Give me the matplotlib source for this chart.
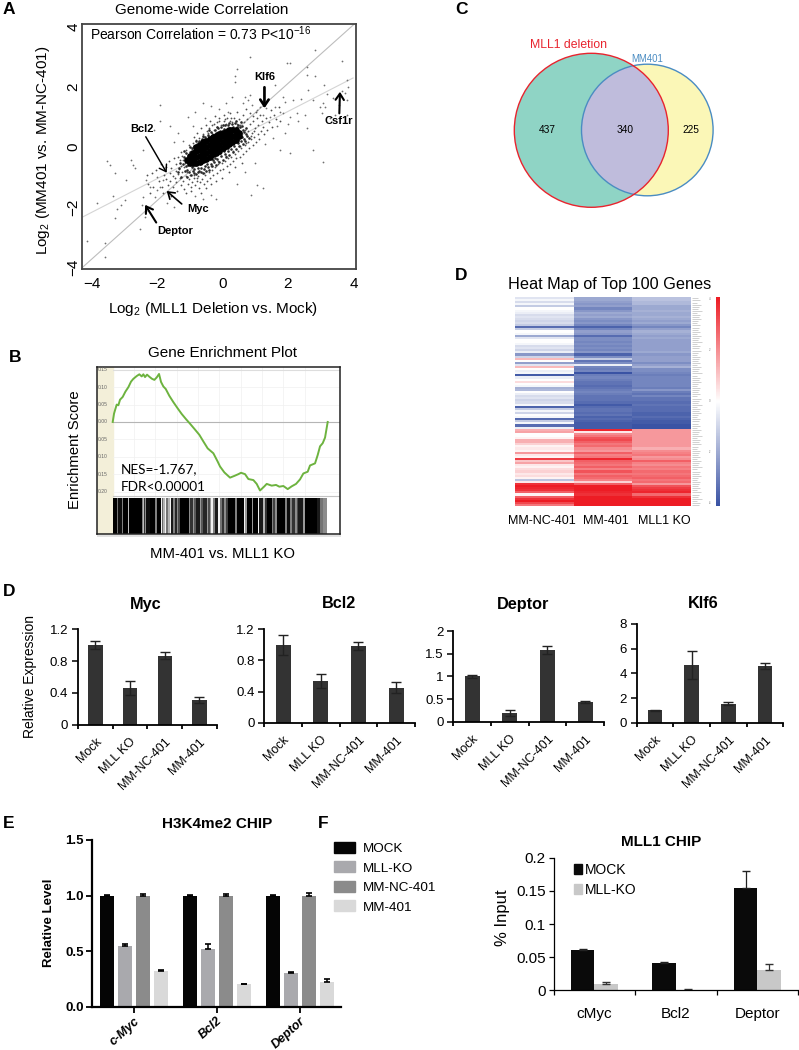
#!/usr/bin/env python3
"""Multi-panel figure: correlation scatter, enrichment plot, Venn, heat map and qPCR / ChIP bars."""

import numpy as np
import matplotlib
matplotlib.use("Agg")
import matplotlib.pyplot as plt
from matplotlib.colors import LinearSegmentedColormap
from matplotlib.patches import Circle, Patch

W, H = 799, 1050
plt.rcParams['font.family'] = ['Liberation Sans', 'DejaVu Sans']
plt.rcParams['mathtext.fontset'] = 'custom'
plt.rcParams['mathtext.rm'] = 'Liberation Sans'
plt.rcParams['mathtext.default'] = 'regular'

# --- panel A: values
sparse_pts = [
    (2.83,3.23),(.84,3.01),(1.96,2.81),(2.06,2.79),(3.64,2.87),(2.57,2.66),(.38,2.37),(.38,2.18),(2.57,2.4),(2.83,2.37),
    (3.8,2.23),(3.64,1.88),(3.85,1.99),(3.74,1.79),(3.8,1.57),(3.39,1.62),(3.08,1.46),(2.98,1.34),(3.13,1.34),(3.03,1.12),
    (3.44,1.07),(2.57,.62),(3.8,1.07),(1.86,1.68),(2.16,1.57),(1.91,1.51),(2.27,1.12),(2.52,1.07),(1.86,1.12),(2.06,1.01),
    (1.61,1.34),(1.76,1.17),(.68,1.68),(.84,1.73),(.79,1.57),(.63,1.46),(.89,1.4),(1.04,1.23),(1.24,1.07),(1.45,1.01),
    (1.14,1.34),(1.34,1.29),(3.07,-.49),(2.78,-.1),(2.06,-.19),(1.24,-1.38),(1.06,-1.27),(.87,-1.6),(-1.92,1.4),(-2.43,-.1),
    (-2.79,-.43),(-2.69,-.71),(-3.55,-.47),(-3.44,-.6),(-3.29,-.88),(-2.74,-.6),(-2.94,-1.1),(-3.84,-1.88),(-3.35,-1.62),(-3.22,-2.08),
    (-3.28,-2.38),(-2.53,-2.74),(-4.16,-3.13),(-3.6,-3.21),(-3.6,-3.66),(-2.43,-1.66),(-2.48,-1.93),(-2.38,-2.32),(-2.33,-2.15),(-2.07,-1.66),
    (-2.02,-1.43),(-2.22,-1.32),(-1.92,-1.32),(-1.71,-1.88),(-1.5,-1.99),(-2.33,-1.1),(-2.02,-.99),(-1.82,-1.1),(-3.0,-1.78),(-3.1,-1.95),
    (1.6,2.05),(1.35,2.4),(.45,2.6),(1.9,.45),(1.55,.3),(1.3,.1),(1.75,-.1),(1.0,-.55),(.7,-.85),(.45,-1.25),
    (-.35,-1.6),(-.2,-1.75),(-.85,-1.65),(-.6,-1.75),(-1.9,.85),(-2.1,.55),(-1.6,.7),(-1.35,.45),(-1.05,1.0),(-.6,1.45),
    (-.85,1.15),(-.35,1.35),(-.1,1.25),(.1,1.45),(.3,1.65),(.15,1.15),(-.55,.95),(-.9,.7),(-1.2,.2),(-1.5,.15),
    (3.3,.95),(3.55,1.4),(3.2,1.75),(2.4,1.6),(2.75,1.55),(2.3,.85),(2.0,.75),(1.65,.7),(2.6,1.9),(3.1,2.05),
]
mid_pts = [
    (-2.03,-.77),(-1.94,-1.12),(-1.88,-.58),(-1.86,-1.33),(-1.79,-.93),(-1.83,-1.52),(-1.73,-.68),(-1.72,-1.07),(-1.67,-1.27),(-1.64,-.47),
    (-1.62,-.88),(-1.58,-1.63),(-1.61,-1.14),(-1.53,-.96),(-1.57,-.71),(-1.49,-.38),(-1.52,-1.34),(-1.46,-1.03),(-1.44,-.79),(-1.41,-.57),
    (-1.39,-1.47),(-1.42,-1.16),(-1.36,-.91),(-1.33,-.73),(-1.37,-.33),(-1.28,-1.26),(-1.31,-1.02),(-1.26,-.62),(-1.23,-.83),(-1.27,-.18),
    (-1.18,-1.41),(-1.22,-1.13),(-1.17,-.68),(-1.21,-.42),(-1.13,-.97),(-1.16,-.53),(-1.11,-.09),(-1.07,-1.24),(-1.12,-1.53),(-1.08,-.82),
    (-1.03,-1.06),(-1.06,-.27),(-1.02,.07),(-.98,-1.32),(-1.01,-.93),(-.97,-.12),(-.93,-1.17),(-.96,-1.46),(-.92,.13),(-.88,-1.03),
    (-.91,-.21),(-.87,.33),(-.83,-1.27),(-.86,-.94),(-.82,-.03),(-.78,-1.12),(-.81,.22),(-.77,.47),(-.73,-1.37),(-.76,-.97),
    (-.72,.04),(-.68,-1.16),(-.71,.31),(-.67,.62),(-.63,-1.06),(-.66,-1.52),(-.62,.17),(-.58,-1.22),(-.61,.42),(-.53,-.93),
    (-.56,.26),(-.52,.73),(-.48,-1.12),(-.51,-1.37),(-.47,.52),(-.43,-.83),(-.46,.36),(-.38,-1.03),(-.41,.63),(-.37,.87),
    (-.33,-.77),(-.36,-1.22),(-.32,.46),(-.28,-.92),(-.31,.72),(-.23,-.68),(-.26,.57),(-.22,1.02),(-.18,-.87),(-.21,-1.12),
    (-.17,.67),(-.13,-.58),(-.16,.82),(-.08,-.77),(-.11,.97),(-.03,-.53),(-.06,.72),(.02,-.72),(-.01,-1.02),(.03,.87),
    (.07,-.48),(.04,1.07),(.12,-.62),(.09,.77),(.17,-.38),(.14,.97),(.22,-.57),(.19,-.82),(.23,.87),(.27,-.33),
    (.24,1.12),(.32,-.47),(.29,.82),(.37,-.23),(.34,.97),(.42,-.37),(.39,-.67),(.43,.77),(.47,-.13),(.44,1.17),
    (.52,-.32),(.49,.92),(.57,-.03),(.54,.72),(.62,-.22),(.59,-.52),(.63,1.07),(.67,.07),(.64,.82),(.72,-.12),
    (.69,.57),(.73,1.27),(.77,.17),(.74,.92),(.82,-.03),(.79,.52),(.83,1.12),(.87,.27),(.84,.77),(.92,.07),
    (.89,.47),(.93,1.02),(.97,.32),(.94,.87),(1.02,.17),(.99,.62),(1.03,1.17),(1.07,.42),(1.04,.97),(1.12,.27),
    (1.09,.72),(1.17,.52),(1.14,1.07),(1.22,.87),(1.27,.42),(1.24,.67),(1.32,.97),(1.37,.57),(1.42,.82),(1.47,1.22),
    (1.52,.67),(1.57,1.07),(1.62,.92),(1.72,1.32),(1.77,.87),(-2.17,-.87),(-2.27,-1.22),(-2.12,-1.32),(-2.32,-.92),(-2.22,-1.52),
    (-1.31,-.44),(-1.24,-.31),(-.94,-.06),(-.74,.16),(-.59,.33),(-.44,.48),(-.27,.76),(-.12,.86),(.06,.92),(.26,.98),
    (-.79,-1.02),(-.56,-.86),(-.34,-.64),(-.14,-.47),(.11,-.29),(.33,-.13),(.53,.04),(.71,.13),(.86,.36),(.96,.53),
]
dense_pts = [
    (-1.37,-.83),(-1.32,-.71),(-1.26,-1.01),(-1.21,-.58),(-1.16,-.79),(-1.12,-.63),(-1.09,-.99),(-1.06,-.48),(-1.03,-.84),(-1.01,-.16),
    (-.98,-.32),(-.96,-.94),(-.93,-.05),(-.91,-.81),(-.88,.03),(-.86,-.88),(-.84,-.16),(-.81,-.91),(-.79,.11),(-.76,-.84),
    (-.73,.19),(-.71,-.79),(-.69,.06),(-.66,-.83),(-.64,.26),(-.61,-.88),(-.59,.14),(-.56,-.74),(-.54,.33),(-.51,-.79),
    (-.49,.22),(-.46,-.66),(-.44,.41),(-.41,-.76),(-.39,.31),(-.36,-.58),(-.34,.51),(-.31,-.63),(-.29,.39),(-.26,-.49),
    (-.24,.56),(-.21,-.59),(-.19,.46),(-.16,-.41),(-.14,.63),(-.11,-.51),(-.09,.53),(-.06,-.31),(-.04,.66),(.01,-.43),
    (.03,.59),(.06,-.24),(.08,.72),(.11,-.34),(.13,.61),(.16,-.14),(.18,.74),(.21,-.26),(.23,.63),(.26,-.06),
    (.28,.78),(.31,-.16),(.33,.68),(.36,.04),(.38,.79),(.41,-.06),(.43,.67),(.46,.13),(.48,.73),(.51,.04),
    (.53,.66),(.56,.19),(.58,.71),(.61,.09),(.63,.56),(.66,.28),(.69,.19),(.71,.43),(.75,.36),(.81,.29),
    (-1.29,-.52),(-1.19,-.34),(-1.13,-.21),(-1.08,-.77),(-.95,-.67),(-.74,-.71),(-.53,-.63),(-.28,-.43),(-.07,-.21),(.15,-.04),
    (.37,.16),(.6,.33),(.66,.51),(.72,.62),(.57,.82),(.42,.86),(.21,.81),(.01,.74),(-.18,.68),(-.42,.56),
    (-.61,.38),(-.81,.21),(-.99,.01),(-1.18,-.13),(-1.06,-.61),(-.87,-.72),(-.67,-.69),(-.47,-.57),(-.24,-.36),(.04,-.12),
]
core_x = [-1.1, -1.0, -1.0, -.9, -.9, -.9, -.8, -.8, -.8, -.8, -.7, -.7, -.7, -.7, -.6, -.6, -.6, -.6, -.5, -.5, -.5, -.5,
          -.4, -.4, -.4, -.4, -.3, -.3, -.3, -.3, -.2, -.2, -.2, -.2, -.1, -.1, -.1, -.1, 0, 0, 0, 0, .1, .1, .1, .1,
          .2, .2, .2, .2, .3, .3, .3, .4, .4, .4, .5, .5]
core_y = [-.45, -.55, -.3, -.55, -.4, -.2, -.55, -.35, -.15, 0, -.5, -.3, -.1, .08, -.45, -.25, -.05, .15, -.4, -.2, 0, .2,
          -.32, -.12, .08, .28, -.25, -.05, .15, .32, -.2, 0, .2, .38, -.12, .08, .28, .42, -.05, .15, .35, .48, .02, .2, .4, .5,
          .1, .28, .48, .55, .15, .35, .55, .22, .4, .55, .35, .48]
fit_line_x = [-4.3, 4.0]
fit_line_y = [-4.03, 4.07]
trend_line_x = [-4.27, 3.99]
trend_line_y = [-2.33, 2.3]
# gene label, tip, tail, label position
gene_arrows = [
    ('Klf6', (1.28, 1.29), (1.28, 1.99), (1.28, 2.34), 2.6),
    ('Csf1r', (3.59, 1.84), (3.57, 1.12), (3.54, .88), 2.0),
    ('Bcl2', (-1.71, -.86), (-2.35, .34), (-2.47, .6), 1.4),
    ('Deptor', (-2.37, -1.93), (-2.03, -2.52), (-1.45, -2.8), 2.0),
    ('Myc', (-1.71, -1.47), (-1.25, -1.9), (-.74, -2.08), 1.6),
]

# --- panel B
curve_rank = [0, 4, 7, 12, 17, 22, 30, 38, 47, 55, 62, 72, 80, 87, 92, 97, 103, 110, 118, 125, 132, 139, 145,
              152, 159, 170, 182, 195, 207, 220, 232, 247, 260, 272, 285, 302, 315, 322, 335, 352, 365, 377, 385,
              397, 407, 422, 432, 442, 455, 462, 477, 490, 500, 512, 525, 537, 550, 562, 572, 585, 592, 607, 615,
              622, 630, 637, 645]
curve_es = [0, .024, .034, .05, .048, .064, .072, .087, .1, .116, .124, .132, .137, .131, .137, .129, .136, .13,
            .124, .121, .128, .138, .115, .102, .095, .075, .057, .039, .023, .008, -.005, -.022, -.037, -.056, -.076,
            -.09, -.114, -.128, -.145, -.16, -.155, -.15, -.146, -.15, -.164, -.167, -.178, -.197, -.185, -.178, -.183,
            -.181, -.186, -.184, -.193, -.185, -.178, -.165, -.148, -.143, -.125, -.119, -.095, -.07, -.061, -.045, 0]
es_ticks = [.15, .10, .05, 0, -.05, -.10, -.15, -.20]
es_tick_labels = ['0.15', '0.10', '0.05', '0.00', '0.05', '0.10', '0.15', '0.20']
# hit bands along the ranked list: start, stop, grey level
hit_bands = [
    (0,12,.0),(12,15,.45),(15,27,.05),(27,31,.5),(31,47,.0),(47,49,.75),(49,87,.0),(87,91,.5),(91,94,.75),(94,97,.2),
    (97,101,.55),(101,112,.05),(112,128,.0),(128,132,.5),(132,144,.0),(144,147,.95),(147,152,.4),(152,156,.7),(156,160,.95),
    (160,166,.45),(166,172,.7),(172,176,.95),(176,182,.1),(182,186,.5),(186,192,.15),(192,196,.55),(196,202,.3),(202,228,.0),
    (228,232,.55),(232,240,.2),(240,244,.6),(244,250,.35),(250,262,.1),(262,266,.6),(266,270,.35),(270,282,.15),(282,287,.6),
    (287,292,.3),(292,296,.6),(296,300,.95),(300,306,.5),(306,317,.1),(317,321,.95),(321,327,.45),(327,333,.2),(333,340,.55),
    (340,346,.25),(346,367,.0),(367,372,.5),(372,393,.0),(393,397,.95),(397,403,.6),(403,417,.0),(417,421,.6),(421,436,.0),
    (436,440,.95),(440,452,.1),(452,456,.7),(456,462,.2),(462,477,.0),(477,482,.5),(482,487,.25),(487,492,.55),(492,517,.0),
    (517,522,.5),(522,532,.05),(532,538,.5),(538,546,.2),(546,552,.55),(552,557,.3),(557,572,.1),(572,577,.6),(577,612,.0),
    (612,622,.1),(622,632,.45),(632,644,.55),
]

# --- panel C
venn_counts = [437, 340, 225]

# --- panel D heat map, rows top to bottom
heat_ncols = ['MM-NC-401', 'MM-401', 'MLL1 KO']
heat_nc = [
    -.15,-.05,-.2,-.05,-.3,0,-.05,-.1,-.2,-.15, -.2,-.25,-.2,-.3,-.85,-.3,0,-.05,-.5,-.15,
    0,0,-.05,-.2,-.15,-.25,-.1,-.6,-.25,.3, 0,-.55,-.15,.3,0,-.1,-.05,-.95,-.1,0,
    .15,0,-.05,-.45,-.4,0,-.1,-.2,-.15,-.25, -.2,-.05,-.9,-.3,-.05,-.25,0,-.05,-.85,-.3,
    -.05,-.85,-.1,.35,.4,0,0,.05,.35,.35, .2,.05,.1,.05,.45,.1,.05,.85,.25,.4,
    .1,.05,.15,.2,.1,.15,.05,-.35,.1,.9, 1,.95,.9,.7,.05,.7,.9,1,.8,.6,
]
heat_mm = [
    -.5,-.5,-.55,-.6,-.55,-.7,-.6,-.5,-.55,-.5, -.6,-.65,-.6,-.7,-.9,-.7,-.55,-.6,-.85,-.65,
    -.65,-.7,-.65,-.7,-.65,-.7,-.6,-.9,-.65,-.3, -.8,-.65,-.1,-.7,-.75,-.7,-1,-.75,-.7,-.75,
    -.8,-.8,-.85,-.8,-.75,-.7,-.75,-.8,-.8,-.8, -.85,-.95,-.85,-.8,-.8,-.85,-.8,-.9,-.85,-.9,
    -.95,-.95,-.95,.95,.1,.5,.6,.75,.8,.7, .6,.65,.5,.45,.7,.55,.6,.95,.7,.65,
    .6,.7,.55,.75,.6,.7,.65,.55,.2,.7, 1,1,1,.95,.9,1,1,1,1,1,
]
heat_ko = [
    -.35,-.35,-.4,-.4,-.5,-.5,-.45,-.5,-.5,-.45, -.5,-.55,-.5,-.6,-.7,-.55,-.45,-.5,-.55,-.5,
    -.55,-.55,-.55,-.55,-.55,-.55,-.5,-.6,-.55,-.55, -.55,-.65,-.55,-.45,-.65,-.65,-.7,-.75,-.7,-.7,
    -.7,-.7,-.7,-.75,-.6,-.75,-.8,-.7,-.8,-.8, -.85,-.8,-.85,-.85,-.85,-.9,-.9,-.85,-.9,-.95,
    -.95,-1,-1,.45,.45,.45,.45,.45,.45,.45, .45,.45,.35,.5,.55,.6,.45,.5,.7,.55,
    .5,.6,.55,.65,.6,.65,.7,.6,.65,.45, .75,.85,.9,.95,.65,.9,1,1,1,1,
]
gene_label_len = [6, 8, 5, 9, 7, 6, 10, 5, 8, 7, 9, 6, 5, 8, 7]
colorbar_labels = ['4', '2', '0', '-2', '-4']

# --- lower D, qPCR
qpcr_groups = ['Mock', 'MLL KO', 'MM-NC-401', 'MM-401']
myc_vals, myc_err = [1.0, .46, .87, .31], [.05, .09, .04, .04]
bcl2_vals, bcl2_err = [1.0, .54, .99, .45], [.13, .09, .05, .07]
deptor_vals, deptor_err = [1.0, .19, 1.58, .43], [.04, .06, .08, .02]
klf6_vals, klf6_err = [1.0, 4.7, 1.55, 4.6], [.04, 1.15, .12, .27]

# --- panel E
e_genes = ['c-Myc', 'Bcl2', 'Deptor']
e_series = ['MOCK', 'MLL-KO', 'MM-NC-401', 'MM-401']
e_vals = [[1.0, 1.0, 1.0], [.55, .52, .30], [1.0, 1.0, 1.0], [.32, .20, .22]]
e_err = [[.005, .004, .006], [.015, .04, .01], [.01, .015, .02], [.01, .005, .03]]
e_colors = ['#050505', '#a9a9ad', '#8b8b8b', '#d9d9d9']

# --- panel F
f_genes = ['cMyc', 'Bcl2', 'Deptor']
f_mock, f_mock_err = [.061, .041, .155], [.001, .002, .025]
f_ko, f_ko_err = [.01, .001, .03], [.002, .001, .009]


fig = plt.figure(figsize=(W / 100, H / 100), dpi=100)


def ax_px(left, top, right, bottom):
    return fig.add_axes([left / W, 1 - bottom / H, (right - left) / W, (bottom - top) / H])


# overlay in picture coordinates for titles and panel letters
ov = ax_px(0, 0, W, H)
ov.set_zorder(10)
ov.set_xlim(0, W)
ov.set_ylim(H, 0)
ov.axis('off')


def label(x, y, s, size=10, **kw):
    kw.setdefault('ha', 'center')
    kw.setdefault('va', 'center')
    ov.text(x, y, s, fontsize=size, **kw)


for letter, x, y in [('A', 3, 9), ('B', 9, 357), ('C', 455, 10), ('D', 455, 275), ('D', 3, 592), ('E', 3, 823), ('F', 318, 823)]:
    label(x, y, letter, 12.5, ha='left', fontweight='bold')

# panel A
ax = ax_px(82, 24, 356, 269)
ax.set_xlim(-4.30, 4.08)
ax.set_ylim(-4.07, 4.1)
for spine in ax.spines.values():
    spine.set_linewidth(1.3)
    spine.set_color('#444444')
ax.plot(fit_line_x, fit_line_y, color='#bdbdbd', lw=0.8, zorder=1)
ax.plot(trend_line_x, trend_line_y, color='#d4d4d4', lw=0.8, zorder=1)
sx, sy = np.array(sparse_pts).T
ax.scatter(sx, sy, s=1.6, color='#707070', lw=0, zorder=2)
mx, my = np.array(mid_pts).T
ax.scatter(mx, my, s=1.7, color='#505050', lw=0, zorder=2)
dx, dy = np.array(dense_pts).T
ax.scatter(dx, dy, s=3.5, color='#2a2a2a', lw=0, zorder=2)
ax.scatter(core_x, core_y, s=24, color='black', lw=0, zorder=3)
for gene, tip, tail, pos, lw in gene_arrows:
    ax.annotate('', xy=tip, xytext=tail, zorder=5,
                arrowprops=dict(arrowstyle='->,head_length=0.45,head_width=0.3', lw=lw * 0.75, color='black',
                                shrinkA=0, shrinkB=0))
    ax.text(pos[0], pos[1], gene, fontsize=8, fontweight='bold', ha='center', va='center', zorder=6)
ax.set_xticks([-4, -2, 0, 2, 4])
ax.set_yticks([-4, -2, 0, 2, 4])
ax.tick_params(axis='x', length=0, labelsize=11, pad=6)
ax.tick_params(axis='y', length=0, labelsize=11, pad=1)
plt.setp(ax.get_yticklabels(), rotation=90, va='center')
label(202, 10, 'Genome-wide Correlation', 11)
label(90, 34, 'Pearson Correlation = 0.73 P<10$^{-16}$', 10, ha='left')
label(213, 309, 'Log$_2$ (MLL1 Deletion vs. Mock)', 11)
label(43, 150, 'Log$_2$ (MM401 vs. MM-NC-401)', 11, rotation=90)

# panel B
ax = ax_px(97, 367, 340, 534)
ax.set_xlim(-15.7 * 3, 227.3 * 3)
ax.set_ylim(-.322, .158)
for spine in ax.spines.values():
    spine.set_linewidth(1.1)
    spine.set_color('#222222')
ax.axvspan(-47, 0, color='#f3efd9', zorder=0)
for rank in range(64, 640, 64):
    ax.axvline(rank, ymin=.22, color='#f0f0f0', lw=0.5, zorder=0)
for val, txt in zip(es_ticks, es_tick_labels):
    ax.text(-45, val, txt, fontsize=3.6, color='#666666', ha='left', va='center')
    ax.plot([0, 700], [val, val], color='#f0f0f0', lw=0.5, zorder=0)
ax.axhline(0, xmin=.065, color='#b5b5b5', lw=0.8, zorder=1)
ax.axhline(-.213, xmin=.065, color='#c4c4c4', lw=0.8, zorder=1)
ax.axhline(.15, xmin=.065, color='#dddddd', lw=0.8, zorder=1)
ax.plot(curve_rank, curve_es, color='#6db33f', lw=1.4, zorder=3)
for start, stop, level in hit_bands:
    ax.bar(start, .104, width=stop - start, bottom=-.322, align='edge', color=str(level), lw=0, zorder=2)
ax.set_xticks([])
ax.set_yticks([])
label(121, 469, 'NES=-1.767,', 9.8, ha='left', family=['Lato', 'DejaVu Sans'])
label(121, 487, 'FDR<0.00001', 9.8, ha='left', family=['Lato', 'DejaVu Sans'])
ov.plot([98, 340], [536, 536], color='#e2e2e2', lw=1.4, zorder=1)
label(223, 353, 'Gene Enrichment Plot', 11)
label(75, 450, 'Enrichment Score', 10.7, rotation=90)
label(222, 554, 'MM-401 vs. MLL1 KO', 10.7)

# panel C
ov.add_patch(Circle((591.3, 130.3), 77, facecolor='#8fd4c5', edgecolor='none', zorder=1))
ov.add_patch(Circle((647.3, 130), 65.8, facecolor='#fbf7b7', edgecolor='none', zorder=1))
overlap = Circle((647.3, 130), 65.8, facecolor='#bfbcdc', edgecolor='none', zorder=2)
ov.add_patch(overlap)
overlap.set_clip_path(Circle((591.3, 130.3), 77, transform=ov.transData))
ov.add_patch(Circle((647.3, 130), 65.8, facecolor='none', edgecolor='#4a8cc2', lw=1.0, zorder=3))
ov.add_patch(Circle((591.3, 130.3), 77, facecolor='none', edgecolor='#e8242e', lw=1.0, zorder=4))
label(547.7, 130, str(venn_counts[0]), 7.3)
label(625, 130, str(venn_counts[1]), 7.3)
label(690.7, 130, str(venn_counts[2]), 7.3)
label(568.7, 45, 'MLL1 deletion', 8.8, color='#e8242e')
label(646.7, 59, 'MM401', 6.9, color='#4a8cc2')

# panel D heat map
heat_cmap = LinearSegmentedColormap.from_list('bwr2', ['#3a53a4', '#ffffff', '#ed1c24'])
heat = np.array([heat_nc, heat_mm, heat_ko]).T
ax = ax_px(515, 297.3, 690.7, 506)
ax.imshow(heat, aspect='auto', cmap=heat_cmap, vmin=-1, vmax=1, interpolation='nearest')
ax.axis('off')
for row in range(100):
    n = gene_label_len[row % len(gene_label_len)]
    y = 297.3 + (row + .5) * 2.087
    ov.plot([691.8, 691.8 + n], [y, y], color='#d0d0d0', lw=0.7, zorder=1, solid_capstyle='butt')
ax = ax_px(716, 297.3, 720, 506)
ax.imshow(np.linspace(1, -1, 200)[:, None], aspect='auto', cmap=heat_cmap, vmin=-1, vmax=1)
ax.axis('off')
for txt, y in zip(colorbar_labels, [299, 350, 401, 452, 503]):
    label(710, y, txt, 2, color='#777777')
for txt, x in zip(heat_ncols, [542, 606, 664]):
    label(x, 521, txt, 9)
label(610, 284, 'Heat Map of Top 100 Genes', 11.7)
ov.set_xlim(0, W)
ov.set_ylim(H, 0)


# lower D qPCR panels
def qpcr_panel(left, right, top, bottom, ymax, yticks, yticklabels, vals, errs, bar_w):
    a = ax_px(left, top, right, bottom)
    x = np.arange(len(qpcr_groups))
    a.bar(x, vals, width=bar_w, color='#333333', lw=0, yerr=errs,
          error_kw=dict(ecolor='#222222', elinewidth=1.0, capsize=3.5, capthick=1.0))
    a.set_xlim(-.5, len(qpcr_groups) - .5)
    a.set_ylim(0, ymax)
    a.spines[['top', 'right']].set_visible(False)
    a.spines[['left', 'bottom']].set_linewidth(1.3)
    a.set_yticks(yticks, yticklabels)
    a.tick_params(axis='y', length=4, width=1.1, labelsize=9.5, pad=3)
    a.set_xticks(np.arange(-.5, len(qpcr_groups)), minor=True)
    a.tick_params(axis='x', which='minor', length=3, width=1.3, direction='out')
    a.set_xticks(x, qpcr_groups, rotation=45, ha='right', rotation_mode='anchor', fontsize=9)
    a.tick_params(axis='x', which='major', length=0, pad=8)
    return a


qpcr_panel(78, 216.7, 629.3, 724.7, 1.2, [0, .4, .8, 1.2], ['0', '0.4', '0.8', '1.2'], myc_vals, myc_err, 14.3 / 34.6)
qpcr_panel(264.3, 415, 629.3, 722.7, 1.2, [0, .4, .8, 1.2], ['0', '0.4', '0.8', '1.2'], bcl2_vals, bcl2_err, 15 / 37.7)
qpcr_panel(453.3, 604, 631, 721.7, 2, [0, .5, 1, 1.5, 2], ['0', '0.5', '1', '1.5', '2'], deptor_vals, deptor_err, 15 / 37.7)
qpcr_panel(636.7, 783.3, 624, 722.7, 8, [0, 2, 4, 6, 8], ['0', '2', '4', '6', '8'], klf6_vals, klf6_err, 14.5 / 36.7)
for txt, x in [('Myc', 145.7), ('Bcl2', 339), ('Deptor', 523), ('Klf6', 703)]:
    label(x, 604, txt, 11.7, fontweight='bold')
label(30, 677, 'Relative Expression', 10, rotation=90)

# panel E
ax = ax_px(92, 840, 341, 1006.7)
xpos = np.arange(len(e_genes))
for i, (vals, errs, color) in enumerate(zip(e_vals, e_err, e_colors)):
    ax.bar(xpos + (i - 1.5) * .217, vals, width=.171, color=color, lw=0, yerr=[np.zeros(3), errs],
           error_kw=dict(ecolor='black', elinewidth=1.1, capsize=2.2, capthick=1.2))
ax.set_xlim(-.502, 2.497)
ax.set_ylim(0, 1.5)
ax.spines[['top', 'right']].set_visible(False)
ax.spines[['left', 'bottom']].set_linewidth(1.6)
ax.set_yticks([0, .5, 1, 1.5], ['0.0', '0.5', '1.0', '1.5'], fontsize=9.5, fontweight='bold')
ax.set_xticks(xpos, e_genes, rotation=42, ha='right', rotation_mode='anchor', fontsize=9,
              fontweight='bold', fontstyle='italic')
ax.tick_params(axis='y', length=4, width=1.3, pad=2)
ax.tick_params(axis='x', length=4, width=1.3, pad=2)
ax.legend([Patch(color=c) for c in e_colors], e_series, loc='upper left', frameon=False, fontsize=9.7,
          bbox_to_anchor=((334 - 92) / 249, .988), borderaxespad=0, borderpad=0, handlelength=1.53, handleheight=.88,
          handletextpad=.62, labelspacing=.47)
label(217, 824, 'H3K4me2 CHIP', 11, fontweight='bold')
label(49, 923, 'Relative Level', 9.5, fontweight='bold', rotation=90)

# panel F
ax = ax_px(553.6, 857.7, 798, 990.3)
xpos = np.arange(len(f_genes))
ax.bar(xpos - .144, f_mock, width=.288, color='#0a0a0a', lw=0, yerr=[np.zeros(3), f_mock_err],
       error_kw=dict(ecolor='#222222', elinewidth=0.9, capsize=3, capthick=1))
ax.bar(xpos + .144, f_ko, width=.288, color='#c8c8c8', lw=0, yerr=[np.zeros(3), f_ko_err],
       error_kw=dict(ecolor='#333333', elinewidth=0.9, capsize=3, capthick=1))
ax.set_xlim(-.5, 2.5)
ax.set_ylim(0, .2)
ax.spines[['top', 'right']].set_visible(False)
ax.spines[['left', 'bottom']].set_linewidth(0.9)
ax.set_yticks([0, .05, .1, .15, .2], ['0', '0.05', '0.1', '0.15', '0.2'], fontsize=11)
ax.set_xticks(xpos, f_genes, fontsize=11)
ax.set_xticks([-.5, .5, 1.5, 2.5], minor=True)
ax.tick_params(axis='x', which='major', length=0, pad=12)
ax.tick_params(axis='x', which='minor', length=3.5, width=0.9)
ax.tick_params(axis='y', length=3.5, width=0.9, pad=2)
ax.legend([Patch(color='#0a0a0a'), Patch(color='#c8c8c8')], ['MOCK', 'MLL-KO'], loc='upper left', frameon=False,
          fontsize=10, bbox_to_anchor=((574 - 553.6) / 244.4, .958), borderaxespad=0, borderpad=0, handlelength=.55,
          handleheight=.72, handletextpad=.25, labelspacing=.43)
label(660.7, 842, 'MLL1 CHIP', 11, fontweight='bold')
label(502, 918, '% Input', 12, rotation=90)

fig.savefig('out.png', dpi=100)
